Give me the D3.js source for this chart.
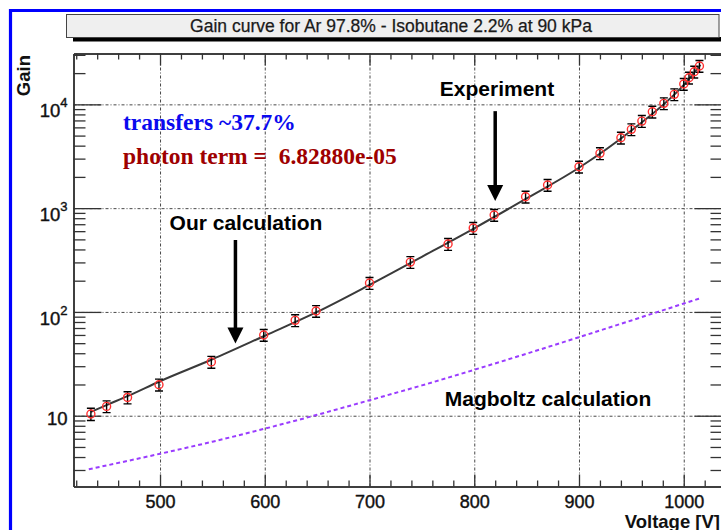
<!DOCTYPE html>
<html>
<head>
<meta charset="utf-8">
<script src="https://cdn.jsdelivr.net/npm/d3@7"></script>
<style>
  html, body { margin: 0; padding: 0; background: #fff; }
  svg { display: block; }
  .sans { font-family: "Liberation Sans", Arial, Helvetica, sans-serif; }
  .serif { font-family: "Liberation Serif", "Times New Roman", serif; }
</style>
</head>
<body>
<svg id="chart" width="721" height="530"></svg>
<script>
// ---- measured gain (Ar 97.8% / iC4H10 2.2%, 90 kPa) ----
const voltage = [434, 449, 469, 499, 549, 599, 629, 649, 700, 739, 775, 799, 819, 849,
                 870, 900, 920, 940, 950, 960, 970, 981, 991, 1000, 1005, 1010, 1015];
const gain    = [10.4, 12.3, 15.0, 19.9, 33.0, 60, 83, 102, 190, 302, 451, 643, 859, 1288,
                 1671, 2506, 3374, 4765, 5743, 6900, 8490, 10220, 12480, 15700, 18030, 20600, 23400];
const gainErr = [1.4, 1.6, 2.0, 2.6, 4.3, 7.8, 10.8, 13, 25, 39, 59, 84, 112, 167,
                 217, 326, 439, 620, 747, 897, 1100, 1330, 1620, 2040, 2340, 2680, 3040];

// ---- model curve (our calculation) ----
const calcVoltage = [434, 450, 470, 500, 550, 600, 650, 700, 750, 800, 850, 900, 950, 1000, 1016];
const calcGain    = [10.9, 12.8, 15.6, 21.5, 35, 59, 100, 182, 340, 640, 1240, 2450, 5600, 15400, 24000];

// ---- Magboltz prediction ----
const magVoltage = [432, 500, 550, 600, 650, 700, 750, 800, 850, 900, 950, 1000, 1016];
const magGain    = [3.05, 4.30, 5.62, 7.50, 10.2, 14.1, 19.6, 27.7, 39.6, 57.1, 82.8, 120.5, 135.8];

// ---- axes ----
const xDomain = [417.4, 1037];
const yDomain = [2.08, 30900];
const xMajorTicks = [500, 600, 700, 800, 900, 1000];
const xMinorTicks = [420, 440, 460, 480, 520, 540, 560, 580, 620, 640, 660, 680, 720, 740, 760, 780,
                     820, 840, 860, 880, 920, 940, 960, 980, 1020];
const yMajorTicks = [10, 100, 1000, 10000];
const yTickBase = ["10", "10", "10", "10"];
const yTickExp  = ["", "2", "3", "4"];

const titleText = "Gain curve for Ar 97.8% - Isobutane 2.2% at 90 kPa";
const xTitle = "Voltage [V]";
const yTitle = "Gain";

// plot frame
const L = 73.5, R = 722.5, T = 53.5, B = 486.5;

const svg = d3.select("#chart");
const x = d3.scaleLinear().domain(xDomain).range([L, R]);
const y = d3.scaleLog().domain(yDomain).range([B, T]);
const yMinor = y.ticks().filter(v => !yMajorTicks.includes(v));

// outer blue frame
svg.append("rect").attr("x", 0).attr("y", 0).attr("width", 721).attr("height", 530).attr("fill", "#fff");
svg.append("path")
  .attr("d", "M10.5,540 L10.5,10.5 L740,10.5")
  .attr("fill", "none").attr("stroke", "#0000ff").attr("stroke-width", 3.2);

// title box with shadow
svg.append("rect").attr("x", 73).attr("y", 37).attr("width", 660).attr("height", 4.5).attr("fill", "#000");
svg.append("rect").attr("x", 66.5).attr("y", 14.5).attr("width", 652.5).attr("height", 23)
  .attr("fill", "#efefef").attr("stroke", "#444").attr("stroke-width", 1);
svg.append("text").attr("class", "sans")
  .attr("x", 391).attr("y", 31.5).attr("text-anchor", "middle")
  .attr("font-size", 17.5).attr("fill", "#1a1a1a")
  .attr("stroke", "#1a1a1a").attr("stroke-width", 0.25)
  .text(titleText);

// plot background
svg.append("rect").attr("x", L).attr("y", T).attr("width", R - L).attr("height", B - T).attr("fill", "#fff");

// grid
const gridStyle = s => s.selectAll("line")
  .attr("stroke", "#333").attr("stroke-width", 0.9).attr("stroke-dasharray", "3,2,1,2");
svg.append("g").attr("transform", `translate(0,${B})`)
  .call(d3.axisBottom(x).tickValues(xMajorTicks).tickSize(-(B - T)).tickFormat(""))
  .call(s => s.select(".domain").remove())
  .call(gridStyle);
svg.append("g").attr("transform", `translate(${L},0)`)
  .call(d3.axisLeft(y).tickValues(yMajorTicks).tickSize(-(R - L)).tickFormat(""))
  .call(s => s.select(".domain").remove())
  .call(gridStyle);

const axisStyle = s => {
  s.selectAll("line").attr("stroke", "#333").attr("stroke-width", 1.3);
  s.select(".domain").attr("stroke", "#333").attr("stroke-width", 1.5);
};

// bottom axis
svg.append("g").attr("transform", `translate(0,${B})`)
  .call(d3.axisBottom(x).tickValues(xMinorTicks).tickSize(-6).tickSizeOuter(0).tickFormat(""))
  .call(axisStyle);
const xAx = svg.append("g").attr("transform", `translate(0,${B})`)
  .call(d3.axisBottom(x).tickValues(xMajorTicks).tickSize(-12).tickSizeOuter(0)
    .tickPadding(9).tickFormat(d3.format("d")))
  .call(axisStyle);
xAx.selectAll("text").attr("class", "sans").attr("font-size", 18).attr("fill", "#111")
  .attr("stroke", "#111").attr("stroke-width", 0.4);

// top axis
svg.append("g").attr("transform", `translate(0,${T})`)
  .call(d3.axisTop(x).tickValues(xMinorTicks).tickSize(-6).tickSizeOuter(0).tickFormat(""))
  .call(axisStyle);
svg.append("g").attr("transform", `translate(0,${T})`)
  .call(d3.axisTop(x).tickValues(xMajorTicks).tickSize(-12).tickSizeOuter(0).tickFormat(""))
  .call(axisStyle);

// left axis
svg.append("g").attr("transform", `translate(${L},0)`)
  .call(d3.axisLeft(y).tickValues(yMinor).tickSize(-12).tickSizeOuter(0).tickFormat(""))
  .call(axisStyle);
const yAx = svg.append("g").attr("transform", `translate(${L},0)`)
  .call(d3.axisLeft(y).tickValues(yMajorTicks).tickSize(-28).tickSizeOuter(0).tickPadding(6).tickFormat(""))
  .call(axisStyle);
yAx.selectAll(".tick").each(function(d, i) {
  const t = d3.select(this).append("text").attr("class", "sans")
    .attr("x", -6).attr("y", yTickExp[i] ? 12.5 : 9)
    .attr("text-anchor", "end").attr("font-size", 18.5).attr("fill", "#111")
    .attr("stroke", "#111").attr("stroke-width", 0.4);
  t.append("tspan").text(yTickBase[i]);
  if (yTickExp[i]) t.append("tspan").attr("font-size", 13).attr("dy", -10).text(yTickExp[i]);
});

// right axis
svg.append("g").attr("transform", `translate(${R},0)`)
  .call(d3.axisRight(y).tickValues(yMinor).tickSize(-12).tickSizeOuter(0).tickFormat(""))
  .call(axisStyle);
svg.append("g").attr("transform", `translate(${R},0)`)
  .call(d3.axisRight(y).tickValues(yMajorTicks).tickSize(-28).tickSizeOuter(0).tickFormat(""))
  .call(axisStyle);

// axis titles
svg.append("text").attr("class", "sans")
  .attr("x", 720).attr("y", 527.5).attr("text-anchor", "end")
  .attr("font-size", 18.5).attr("font-weight", "bold").attr("fill", "#111")
  .text(xTitle);
svg.append("text").attr("class", "sans")
  .attr("transform", "translate(29.5,55) rotate(-90)")
  .attr("text-anchor", "end").attr("font-size", 18.5).attr("font-weight", "bold").attr("fill", "#111")
  .text(yTitle);

// clip to the frame
svg.append("clipPath").attr("id", "frame").append("rect")
  .attr("x", L).attr("y", T).attr("width", R - L).attr("height", B - T);
const plot = svg.append("g").attr("clip-path", "url(#frame)");

const line = d3.line().x(d => x(d[0])).y(d => y(d[1])).curve(d3.curveMonotoneX);

// Magboltz curve
plot.append("path")
  .datum(d3.zip(magVoltage, magGain))
  .attr("d", line)
  .attr("fill", "none").attr("stroke", "#9a3cff").attr("stroke-width", 2)
  .attr("stroke-dasharray", "4,3");

// our calculation
plot.append("path")
  .datum(d3.zip(calcVoltage, calcGain))
  .attr("d", line)
  .attr("fill", "none").attr("stroke", "#3a3a3a").attr("stroke-width", 2);

// experiment: error bars + open markers
const pts = d3.zip(voltage, gain, gainErr);
const eb = plot.append("g").selectAll("g").data(pts).join("g");
eb.append("line")
  .attr("x1", d => x(d[0])).attr("x2", d => x(d[0]))
  .attr("y1", d => y(d[1] + d[2])).attr("y2", d => y(d[1] - d[2]))
  .attr("stroke", "#000").attr("stroke-width", 1.4);
eb.append("line")
  .attr("x1", d => x(d[0]) - 4).attr("x2", d => x(d[0]) + 4)
  .attr("y1", d => y(d[1] + d[2])).attr("y2", d => y(d[1] + d[2]))
  .attr("stroke", "#000").attr("stroke-width", 1.4);
eb.append("line")
  .attr("x1", d => x(d[0]) - 4).attr("x2", d => x(d[0]) + 4)
  .attr("y1", d => y(d[1] - d[2])).attr("y2", d => y(d[1] - d[2]))
  .attr("stroke", "#000").attr("stroke-width", 1.4);
plot.append("g").selectAll("circle").data(pts).join("circle")
  .attr("cx", d => x(d[0])).attr("cy", d => y(d[1])).attr("r", 4)
  .attr("fill", "none").attr("stroke", "#ff3030").attr("stroke-width", 1.4);

// annotation arrows (positioned in data coordinates)
const arrows = [
  { v: 820, from: 8600, to: 1170 },
  { v: 572, from: 493, to: 49.6 }
];
arrows.forEach(a => {
  const ax = x(a.v), y0 = y(a.from), y1 = y(a.to);
  svg.append("line").attr("x1", ax).attr("x2", ax).attr("y1", y0).attr("y2", y1 - 14)
    .attr("stroke", "#000").attr("stroke-width", 3.5);
  svg.append("path")
    .attr("d", `M${ax - 8},${y1 - 16} L${ax + 8},${y1 - 16} L${ax},${y1} Z`)
    .attr("fill", "#000");
});

// annotation labels
const labels = [
  { text: "Experiment", x: 497, y: 96 },
  { text: "Our calculation", x: 246, y: 230 },
  { text: "Magboltz calculation", x: 548, y: 406 }
];
svg.append("g").selectAll("text").data(labels).join("text")
  .attr("class", "sans")
  .attr("x", d => d.x).attr("y", d => d.y).attr("text-anchor", "middle")
  .attr("font-size", 21).attr("font-weight", "bold").attr("fill", "#000")
  .text(d => d.text);

svg.append("text").attr("class", "serif")
  .attr("x", 123).attr("y", 130)
  .attr("font-size", 23.5).attr("font-weight", "bold").attr("fill", "#0a0aee")
  .text("transfers ~37.7%");
svg.append("text").attr("class", "serif")
  .attr("x", 123).attr("y", 164).style("white-space", "pre")
  .attr("font-size", 23.5).attr("font-weight", "bold").attr("fill", "#9e0000")
  .text("photon term =  6.82880e-05");
</script>
</body>
</html>
